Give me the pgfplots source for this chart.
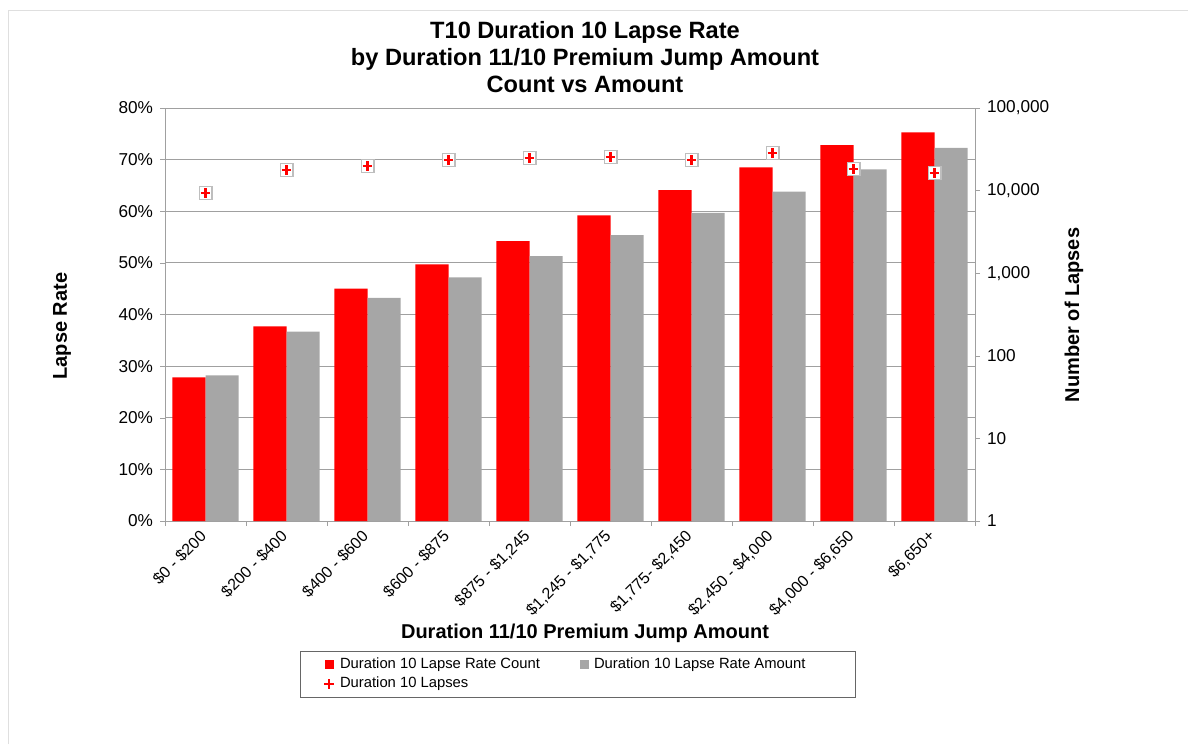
\documentclass[border=0pt]{standalone}
\usepackage{pgfplots}
\pgfplotsset{compat=1.18}
\usepackage{fontspec}
\setmainfont{Liberation Sans}
\definecolor{barred}{RGB}{255,0,0}
\definecolor{bargray}{RGB}{166,166,166}
\definecolor{gridgray}{RGB}{160,160,160}
\definecolor{boxgray}{RGB}{190,190,190}

\begin{document}
\begin{tikzpicture}
\begin{scope}[x=0.5pt,y=-0.5pt]
  \path[use as bounding box] (0,0) rectangle (1188,744);
  \draw[gray!25] (8,744) -- (8,10) -- (1188,10);
  \node[font=\bfseries\fontsize{11.8}{13.5}\selectfont, align=center] at (585,57)
    {T10 Duration 10 Lapse Rate\\by Duration 11/10 Premium Jump Amount\\Count vs Amount};
  \node[font=\bfseries\fontsize{10}{12}\selectfont, rotate=90] at (62,326) {Lapse Rate};
  \node[font=\bfseries\fontsize{10}{12}\selectfont, rotate=90] at (1074,315) {Number of Lapses};
  \node[font=\bfseries\fontsize{10}{12}\selectfont] at (585,633) {Duration 11/10 Premium Jump Amount};
\end{scope}

% left axis: lapse rates (bars)
\begin{axis}[
  at={(82.5pt,-260.5pt)}, anchor=south west,
  width=405pt, height=206.5pt, scale only axis,
  xmin=-0.5, xmax=9.5, ymin=0, ymax=0.8,
  axis x line*=bottom, axis y line*=left,
  axis line style={gridgray},
  tick align=outside, major tick length=2.5pt,
  tick style={gridgray},
  ymajorgrids, grid style={gridgray},
  ytick={0,0.1,...,0.8},
  yticklabels={0\%,10\%,20\%,30\%,40\%,50\%,60\%,70\%,80\%},
  xtick={-0.5,0.5,...,9.5},
  x tick label as interval,
  xticklabels={\$0 - \$200, \$200 - \$400, \$400 - \$600, \$600 - \$875,
    {\$875 - \$1,245}, {\$1,245 - \$1,775}, {\$1,775- \$2,450},
    {\$2,450 - \$4,000}, {\$4,000 - \$6,650}, {\$6,650+}},
  x tick label style={rotate=45, anchor=east, yshift=-2pt, font=\fontsize{8}{9.6}\selectfont},
  y tick label style={font=\fontsize{8.6}{10}\selectfont},
]
\addplot[ybar, bar width=0.41, bar shift=-0.205, fill=barred, draw=none] coordinates {
  (0,0.278) (1,0.377) (2,0.450) (3,0.497) (4,0.542)
  (5,0.592) (6,0.641) (7,0.685) (8,0.728) (9,0.753)};
\addplot[ybar, bar width=0.41, bar shift=0.205, fill=bargray, draw=none] coordinates {
  (0,0.282) (1,0.367) (2,0.432) (3,0.472) (4,0.513)
  (5,0.554) (6,0.597) (7,0.638) (8,0.681) (9,0.723)};
\end{axis}

% right axis: number of lapses (log)
\begin{axis}[
  at={(82.5pt,-260.5pt)}, anchor=south west,
  width=405pt, height=206.5pt, scale only axis,
  xmin=-0.5, xmax=9.5, ymode=log, ymin=1, ymax=100000,
  axis x line=none, axis y line*=right,
  axis line style={gridgray},
  tick align=outside, major tick length=2.5pt,
  tick style={gridgray}, yminorticks=false,
  ytick={1,10,100,1000,10000,100000},
  yticklabels={1,10,100,{1,000},{10,000},{100,000}},
  y tick label style={font=\fontsize{8.6}{10}\selectfont},
  legend columns=2,
  legend image code/.code={\draw[#1] plot coordinates {(0pt,0pt)};},
  legend style={at={(0.1667,-0.315)}, anchor=north west,
    draw=gray!80!black, fill=white,
    font=\fontsize{7.4}{8.6}\selectfont,
    inner xsep=12pt, inner ysep=1pt, row sep=-1pt,
    /tikz/every odd column/.append style={column sep=1pt}},
  legend cell align=left,
]
\addlegendimage{only marks, mark=square*, mark size=2pt, mark options={fill=barred, draw=barred}}
\addlegendentry{\makebox[118pt][l]{Duration 10 Lapse Rate Count}}
\addlegendimage{only marks, mark=square*, mark size=2pt, mark options={fill=bargray, draw=bargray}}
\addlegendentry{\makebox[116.5pt][l]{Duration 10 Lapse Rate Amount}}
\addplot[only marks, mark=square*, mark size=3.2pt, mark options={fill=white, draw=boxgray, line width=0.6pt}, forget plot] coordinates {
  (0,9340) (1,17800) (2,19900) (3,23500) (4,24800)
  (5,25500) (6,23500) (7,28500) (8,18300) (9,16300)};
\addplot[only marks, mark=+, mark size=2.4pt, mark options={draw=barred, line width=1.1pt}] coordinates {
  (0,9340) (1,17800) (2,19900) (3,23500) (4,24800)
  (5,25500) (6,23500) (7,28500) (8,18300) (9,16300)};
\addlegendentry{Duration 10 Lapses}
\end{axis}
\end{tikzpicture}
\end{document}
